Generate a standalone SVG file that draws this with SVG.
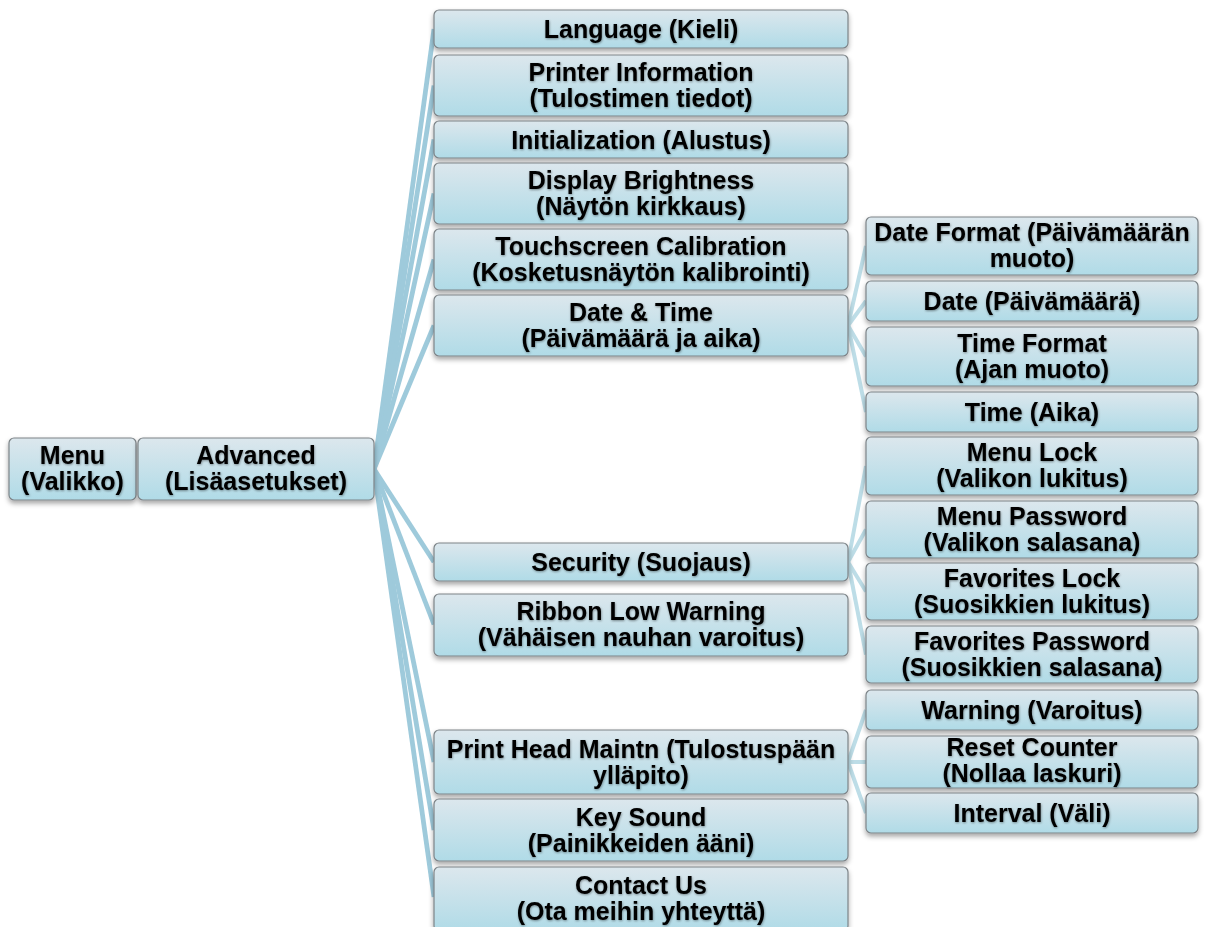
<svg xmlns="http://www.w3.org/2000/svg" width="1206" height="927" viewBox="0 0 1206 927">
<defs>
<linearGradient id="g" x1="0" y1="0" x2="0" y2="1">
<stop offset="0" stop-color="#dce7ed"/>
<stop offset="1" stop-color="#b0dbe7"/>
</linearGradient>
<filter id="sh" x="-10%" y="-20%" width="120%" height="150%">
<feDropShadow dx="0" dy="3" stdDeviation="2.5" flood-color="#000" flood-opacity="0.35"/>
</filter>
<filter id="ts" x="-5%" y="-20%" width="110%" height="140%">
<feDropShadow dx="0.5" dy="1" stdDeviation="1.2" flood-color="#000" flood-opacity="0.4"/>
</filter>
</defs>
<style>
rect.n{fill:url(#g);stroke:#7d8488;stroke-width:1.2;filter:url(#sh)}
text{font-family:"Liberation Sans",Arial,Helvetica,sans-serif;font-weight:bold;font-size:25px;fill:#000;text-anchor:middle;filter:url(#ts)}
.c1 line{stroke:#9ecadb;stroke-width:4.8;stroke-linecap:butt}
.c2 line{stroke:#bddde7;stroke-width:4;stroke-linecap:butt}
</style>
<rect width="1206" height="927" fill="#fff"/>
<g id="connectors">
<g class="c1">
<line x1="374" y1="469" x2="434" y2="29"/>
<line x1="374" y1="469" x2="434" y2="85.5"/>
<line x1="374" y1="469" x2="434" y2="139.5"/>
<line x1="374" y1="469" x2="434" y2="193.5"/>
<line x1="374" y1="469" x2="434" y2="259.5"/>
<line x1="374" y1="469" x2="434" y2="325.5"/>
<line x1="374" y1="469" x2="434" y2="562"/>
<line x1="374" y1="469" x2="434" y2="624.5"/>
<line x1="374" y1="469" x2="434" y2="762"/>
<line x1="374" y1="469" x2="434" y2="830"/>
<line x1="374" y1="469" x2="434" y2="897"/>
</g>
<g class="c2">
<line x1="848" y1="325.5" x2="866" y2="246"/>
<line x1="848" y1="325.5" x2="866" y2="301"/>
<line x1="848" y1="325.5" x2="866" y2="356.5"/>
<line x1="848" y1="325.5" x2="866" y2="412"/>
<line x1="848" y1="562" x2="866" y2="466"/>
<line x1="848" y1="562" x2="866" y2="529.5"/>
<line x1="848" y1="562" x2="866" y2="591.5"/>
<line x1="848" y1="562" x2="866" y2="654.5"/>
<line x1="848" y1="762" x2="866" y2="710"/>
<line x1="848" y1="762" x2="866" y2="762"/>
<line x1="848" y1="762" x2="866" y2="813"/>
</g>
</g>
<g id="menu"><rect class="n" x="9" y="438" width="127" height="62" rx="5"/><text x="72.5" y="464">Menu</text><text x="72.5" y="490">(Valikko)</text></g>
<g id="advanced"><rect class="n" x="138" y="438" width="236" height="62" rx="5"/><text x="256" y="464">Advanced</text><text x="256" y="490">(Lisäasetukset)</text></g>

<g id="language"><rect class="n" x="434" y="10" width="414" height="38" rx="5"/><text x="641" y="38">Language (Kieli)</text></g>
<g id="printer-info"><rect class="n" x="434" y="55" width="414" height="61" rx="5"/><text x="641" y="81">Printer Information</text><text x="641" y="107">(Tulostimen tiedot)</text></g>
<g id="initialization"><rect class="n" x="434" y="121" width="414" height="37" rx="5"/><text x="641" y="148.5">Initialization (Alustus)</text></g>
<g id="display-brightness"><rect class="n" x="434" y="163" width="414" height="61" rx="5"/><text x="641" y="189">Display Brightness</text><text x="641" y="215">(Näytön kirkkaus)</text></g>
<g id="touchscreen"><rect class="n" x="434" y="229" width="414" height="61" rx="5"/><text x="641" y="255">Touchscreen Calibration</text><text x="641" y="281">(Kosketusnäytön kalibrointi)</text></g>
<g id="date-time"><rect class="n" x="434" y="295" width="414" height="61" rx="5"/><text x="641" y="321">Date &amp; Time</text><text x="641" y="347">(Päivämäärä ja aika)</text></g>
<g id="security"><rect class="n" x="434" y="543" width="414" height="38" rx="5"/><text x="641" y="571">Security (Suojaus)</text></g>
<g id="ribbon"><rect class="n" x="434" y="594" width="414" height="62" rx="5"/><text x="641" y="620">Ribbon Low Warning</text><text x="641" y="646">(Vähäisen nauhan varoitus)</text></g>
<g id="print-head"><rect class="n" x="434" y="730" width="414" height="64" rx="5"/><text x="641" y="758">Print Head Maintn (Tulostuspään</text><text x="641" y="784">ylläpito)</text></g>
<g id="key-sound"><rect class="n" x="434" y="799" width="414" height="62" rx="5"/><text x="641" y="826">Key Sound</text><text x="641" y="852">(Painikkeiden ääni)</text></g>
<g id="contact-us"><rect class="n" x="434" y="867" width="414" height="64" rx="5"/><text x="641" y="894">Contact Us</text><text x="641" y="920">(Ota meihin yhteyttä)</text></g>

<g id="date-format"><rect class="n" x="866" y="217" width="332" height="58" rx="5"/><text x="1032" y="241">Date Format (Päivämäärän</text><text x="1032" y="267">muoto)</text></g>
<g id="date"><rect class="n" x="866" y="281" width="332" height="40" rx="5"/><text x="1032" y="310">Date (Päivämäärä)</text></g>
<g id="time-format"><rect class="n" x="866" y="327" width="332" height="59" rx="5"/><text x="1032" y="352">Time Format</text><text x="1032" y="378">(Ajan muoto)</text></g>
<g id="time"><rect class="n" x="866" y="392" width="332" height="40" rx="5"/><text x="1032" y="421">Time (Aika)</text></g>
<g id="menu-lock"><rect class="n" x="866" y="437" width="332" height="58" rx="5"/><text x="1032" y="461">Menu Lock</text><text x="1032" y="487">(Valikon lukitus)</text></g>
<g id="menu-password"><rect class="n" x="866" y="501" width="332" height="57" rx="5"/><text x="1032" y="524.5">Menu Password</text><text x="1032" y="550.5">(Valikon salasana)</text></g>
<g id="favorites-lock"><rect class="n" x="866" y="563" width="332" height="57" rx="5"/><text x="1032" y="586.5">Favorites Lock</text><text x="1032" y="612.5">(Suosikkien lukitus)</text></g>
<g id="favorites-password"><rect class="n" x="866" y="626" width="332" height="57" rx="5"/><text x="1032" y="649.5">Favorites Password</text><text x="1032" y="675.5">(Suosikkien salasana)</text></g>
<g id="warning"><rect class="n" x="866" y="690" width="332" height="40" rx="5"/><text x="1032" y="719">Warning (Varoitus)</text></g>
<g id="reset-counter"><rect class="n" x="866" y="736" width="332" height="52" rx="5"/><text x="1032" y="756">Reset Counter</text><text x="1032" y="782">(Nollaa laskuri)</text></g>
<g id="interval"><rect class="n" x="866" y="793" width="332" height="40" rx="5"/><text x="1032" y="822">Interval (Väli)</text></g>
</svg>
